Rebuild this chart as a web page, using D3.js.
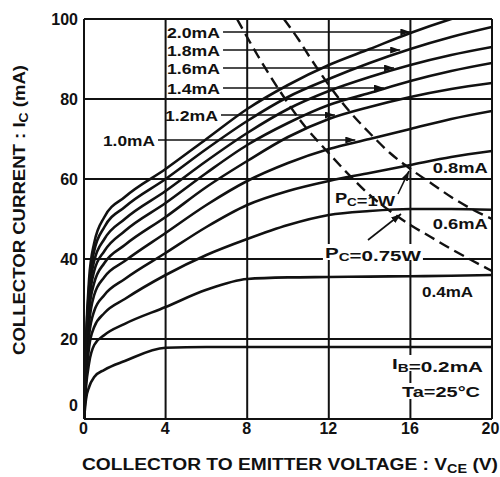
<!DOCTYPE html>
<html>
<head>
<meta charset="utf-8">
<script src="https://cdn.jsdelivr.net/npm/d3@7"></script>
<style>
  body { margin: 0; background: #fff; }
  svg text { font-family: "Liberation Sans", Arial, sans-serif; font-weight: bold; fill: #111; }
</style>
</head>
<body>
<script>
// collector voltage sample points (V)
var vce = [0, 0.1, 0.25, 0.5, 1, 2, 4, 6, 8, 10, 12, 14, 16, 18, 20];

// collector current (mA) for each base current
var ic02 = [0, 5, 8, 10.5, 12.3, 14.5, 17.8, 18, 18, 18, 18, 18, 18, 18, 18];
var ic04 = [0, 8, 14, 18.5, 21, 23.8, 28, 32.3, 35, 35.4, 35.5, 35.6, 35.7, 35.8, 36];
var ic06 = [0, 10, 18, 23, 26.5, 30, 36, 41, 45, 48.5, 51, 52, 52.5, 52.5, 52.3];
var ic08 = [0, 12, 21, 27, 31, 35, 41.5, 48, 53.5, 57, 59.5, 61.5, 63.5, 65.5, 67];
var ic10 = [0, 14, 24, 31, 35.5, 39.5, 46.5, 53.5, 59.5, 64, 67.5, 70, 72.5, 75, 77];
var ic12 = [0, 16, 27, 34, 39, 43.5, 50.5, 58, 64.5, 70.5, 75, 78, 80.5, 82.5, 84];
var ic14 = [0, 17, 29, 37, 42, 47, 54, 61.5, 68.5, 74, 78.5, 81.5, 84.5, 87, 89];
var ic16 = [0, 18, 31, 39.5, 45, 50, 57, 64.5, 71.5, 77.5, 82, 85.5, 88.5, 91, 93];
var ic18 = [0, 19, 33, 42, 48, 53, 60, 67.5, 74.5, 80.5, 85, 89, 92.5, 95.5, 98];
var ic20 = [0, 20, 35, 44, 50.5, 55.5, 62.5, 70, 77.5, 83.5, 88.5, 92.5, 96.5, 100, 103];

// power dissipation limits (dashed)
var pc1wV = [9.8, 10.5, 11, 12, 13, 14, 15, 16, 17, 18, 19, 20];
var pc1wI = [100, 95, 91, 83.5, 77, 71.5, 66.5, 62.5, 59, 55.5, 52.5, 50];
var pc075V = [7.5, 8.5, 9.6, 10.7, 11.9, 13, 14, 15, 16, 17, 18, 19, 20];
var pc075I = [100, 91, 82, 74, 67, 61, 56, 52, 48.5, 45.5, 42.5, 39.7, 37];

var xTicks = [0, 4, 8, 12, 16, 20];
var yTicks = [0, 20, 40, 60, 80, 100];

var curves = [ic02, ic04, ic06, ic08, ic10, ic12, ic14, ic16, ic18, ic20];

var svg = d3.select("body").append("svg")
  .attr("width", 500)
  .attr("height", 477);

var x = d3.scaleLinear().domain([0, 20]).range([84, 492]);
var y = d3.scaleLinear().domain([0, 100]).range([419, 19]);

svg.append("defs").append("clipPath").attr("id", "plot")
  .append("rect")
  .attr("x", x(0)).attr("y", y(100))
  .attr("width", x(20) - x(0)).attr("height", y(0) - y(100));

svg.select("defs").append("marker")
  .attr("id", "head")
  .attr("markerUnits", "userSpaceOnUse")
  .attr("markerWidth", 11).attr("markerHeight", 8)
  .attr("refX", 10).attr("refY", 3.5)
  .attr("orient", "auto")
  .append("path").attr("d", "M0,0L10,3.5L0,7Z").attr("fill", "#111");

// grid
svg.selectAll(".gx").data(xTicks).enter().append("line")
  .attr("x1", function(d) { return x(d); }).attr("x2", function(d) { return x(d); })
  .attr("y1", y(0)).attr("y2", y(100))
  .attr("stroke", "#111").attr("stroke-width", 2);
svg.selectAll(".gy").data(yTicks).enter().append("line")
  .attr("x1", x(0)).attr("x2", x(20))
  .attr("y1", function(d) { return y(d); }).attr("y2", function(d) { return y(d); })
  .attr("stroke", "#111").attr("stroke-width", 2);

// axes labels
var xAxis = svg.append("g").attr("transform", "translate(0," + y(0) + ")")
  .call(d3.axisBottom(x).tickValues(xTicks).tickSize(0).tickPadding(4));
var yAxis = svg.append("g").attr("transform", "translate(" + x(0) + ",0)")
  .call(d3.axisLeft(y).tickValues(yTicks).tickSize(0).tickPadding(6));
xAxis.select(".domain").remove();
yAxis.select(".domain").remove();
svg.selectAll(".tick text")
  .style("font-family", "'Liberation Sans', Arial, sans-serif")
  .style("font-weight", "bold").style("font-size", "16px").attr("fill", "#111");
xAxis.selectAll(".tick text").attr("dx", -1);
xAxis.selectAll(".tick").filter(function(d) { return d === 20; })
  .select("text").attr("dx", -2);
yAxis.selectAll(".tick").filter(function(d) { return d === 0; })
  .select("text").attr("dy", "-0.55em");

// curves
var line = d3.line()
  .x(function(d) { return x(d[0]); })
  .y(function(d) { return y(d[1]); })
  .curve(d3.curveMonotoneX);

var plot = svg.append("g").attr("clip-path", "url(#plot)");

plot.selectAll(".ib").data(curves).enter().append("path")
  .attr("d", function(vals) { return line(vce.map(function(v, i) { return [v, vals[i]]; })); })
  .attr("fill", "none").attr("stroke", "#111").attr("stroke-width", 2.6);

[[pc1wV, pc1wI], [pc075V, pc075I]].forEach(function(p) {
  plot.append("path")
    .attr("d", line(p[0].map(function(v, i) { return [v, p[1][i]]; })))
    .attr("fill", "none").attr("stroke", "#111").attr("stroke-width", 2.4)
    .attr("stroke-dasharray", "11,6");
});

// text helper: parts = [[text, isSub], ...]
function label(parts, v, ic, w, bg) {
  var px = x(v), py = y(ic);
  if (bg) {
    svg.append("rect").attr("x", px - 2).attr("y", py - 8).attr("width", w + 4).attr("height", 16)
      .attr("fill", "#fff");
  }
  var t = svg.append("text").attr("x", px).attr("y", py + 5.5)
    .style("font-size", "15px")
    .attr("textLength", w).attr("lengthAdjust", "spacingAndGlyphs");
  parts.forEach(function(p) {
    if (p[1]) {
      t.append("tspan").attr("dy", 3).style("font-size", "11px").text(p[0]);
      t.append("tspan").attr("dy", -3).text("");
    } else {
      t.append("tspan").text(p[0]);
    }
  });
  return px + w;
}

function leader(x0, v, ic) {
  svg.append("line")
    .attr("x1", x0 + 3).attr("x2", x(v))
    .attr("y1", y(ic)).attr("y2", y(ic))
    .attr("stroke", "#111").attr("stroke-width", 1.6)
    .attr("marker-end", "url(#head)");
}

leader(label([["2.0mA"]], 4.07, 96.75, 53), 16, 96.75);
leader(label([["1.8mA"]], 4.07, 92.25, 53), 15.5, 92.25);
leader(label([["1.6mA"]], 4.07, 87.75, 53), 15.2, 87.75);
leader(label([["1.4mA"]], 4.07, 82.75, 53), 14.7, 82.75);
leader(label([["1.2mA"]], 3.97, 76, 53), 12.3, 76);
leader(label([["1.0mA"]], 0.93, 69.75, 52), 13.3, 69.75);

label([["0.8mA"]], 17.1, 63, 55);
label([["0.6mA"]], 17.1, 49, 55);
label([["0.4mA"]], 16.57, 32, 51);
label([["I"], ["B", true], ["=0.2mA"]], 15.1, 14, 91, true);
label([["Ta=25°C"]], 15.59, 7, 78, true);
label([["P"], ["C", true], ["=1W"]], 12.3, 55.5, 60);
label([["P"], ["C", true], ["=0.75W"]], 11.81, 41.75, 96, true);

// arrows from the power labels
svg.append("line")
  .attr("x1", x(15.39)).attr("y1", y(56.25)).attr("x2", x(15.93)).attr("y2", y(62))
  .attr("stroke", "#111").attr("stroke-width", 1.6).attr("marker-end", "url(#head)");
svg.append("line")
  .attr("x1", x(13.92)).attr("y1", y(44.75)).attr("x2", x(15.54)).attr("y2", y(51.25))
  .attr("stroke", "#111").attr("stroke-width", 1.6).attr("marker-end", "url(#head)");

// axis titles
var yt = svg.append("text")
  .attr("transform", "translate(25,210) rotate(-90)")
  .attr("text-anchor", "middle")
  .style("font-size", "16px")
  .attr("textLength", 290).attr("lengthAdjust", "spacingAndGlyphs");
yt.append("tspan").text("COLLECTOR CURRENT : I");
yt.append("tspan").attr("dy", 3).style("font-size", "12px").text("C");
yt.append("tspan").attr("dy", -3).text(" (mA)");

var xt = svg.append("text")
  .attr("x", 82).attr("y", 470)
  .style("font-size", "16px")
  .attr("textLength", 416).attr("lengthAdjust", "spacingAndGlyphs");
xt.append("tspan").text("COLLECTOR TO EMITTER VOLTAGE : V");
xt.append("tspan").attr("dy", 3).style("font-size", "12px").text("CE");
xt.append("tspan").attr("dy", -3).text(" (V)");
</script>
</body>
</html>
